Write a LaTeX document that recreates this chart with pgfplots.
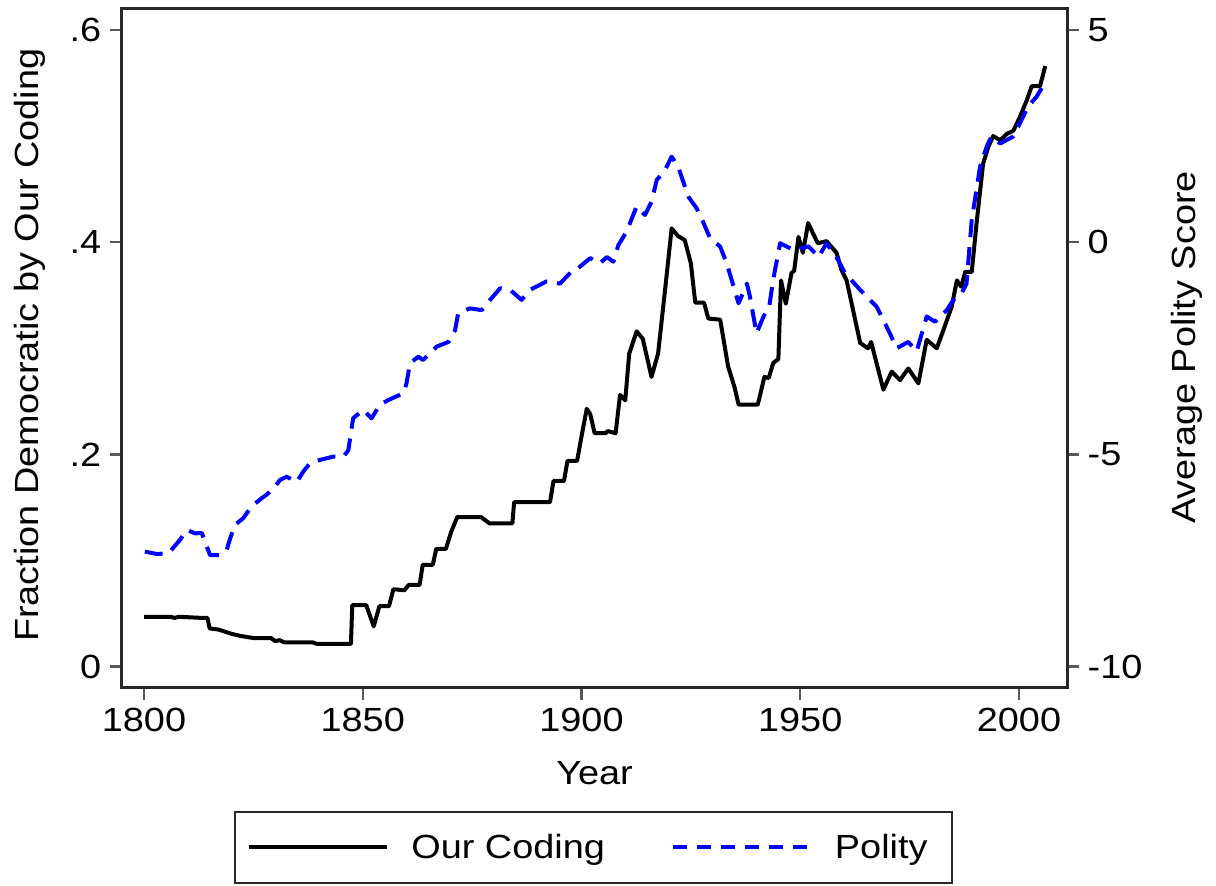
\documentclass[border=0pt]{standalone}
\usepackage{fontspec}
\setmainfont{Liberation Sans}[FakeStretch=1.13]
\usepackage{pgfplots}
\pgfplotsset{compat=1.18}
\definecolor{polblue}{RGB}{0,0,255}
\definecolor{framegray}{RGB}{40,40,40}
\begin{document}
\begin{tikzpicture}[font=\fontsize{16.75}{20}\selectfont]
\pgfplotsset{
  common/.style={
    scale only axis, width=472.8pt, height=339.7pt,
    xmin=1794.9, xmax=2011.04,
    axis line style={draw=framegray, line width=1.4pt},
    every tick/.style={draw=black!65, line width=1.2pt},
    major tick length=6pt,
    tick align=outside,
    clip=false,
  }
}
\begin{axis}[common,
  ymin=-0.0198, ymax=0.6204,
  xtick pos=bottom, ytick pos=left,
  xtick={1800,1850,1900,1950,2000},
  xticklabels={1800,1850,1900,1950,2000},
  ytick={0,0.2,0.4,0.6},
  yticklabels={0,.2,.4,.6},
  xticklabel style={inner sep=1pt, yshift=-3pt},
  yticklabel style={inner sep=1pt, xshift=-3pt},
  xlabel={Year},
  xlabel style={at={(axis description cs:0.5,-0.1256)}, anchor=center},
  ylabel={Fraction Democratic by Our Coding},
  ylabel style={at={(axis description cs:-0.097,0.504)}, anchor=center},
  legend columns=2,
  legend cell align=left,
  legend image code/.code={\draw[#1] (0pt,0pt) -- (69pt,0pt);},
  legend style={at={(axis description cs:0.4989,-0.2352)}, anchor=center,
    draw=framegray, line width=1pt, inner xsep=6pt, inner ysep=8pt,
    nodes={inner xsep=6pt, inner ysep=3pt},
    /tikz/every odd column/.append style={column sep=5pt},
    /tikz/every even column/.append style={column sep=27pt}},
]
\addplot[black, line width=2pt, line join=round] coordinates {
(1800,0.047)(1806,0.047)(1807,0.046)(1808,0.047)(1813,0.046)(1814.5,0.046)(1815,0.036)(1817,0.035)(1820,0.031)(1822,0.029)(1825,0.027)(1829,0.027)(1830,0.024)(1831,0.025)(1832,0.023)(1838.5,0.023)(1839.5,0.0215)(1847.3,0.0215)(1847.6,0.058)(1850.8,0.058)(1852.5,0.038)(1853.8,0.057)(1856,0.057)(1857,0.073)(1859.5,0.072)(1860.5,0.077)(1863,0.077)(1863.7,0.096)(1866,0.096)(1866.8,0.111)(1869,0.111)(1870.2,0.127)(1871.6,0.141)(1877,0.141)(1879,0.135)(1884.2,0.135)(1884.6,0.155)(1892.8,0.155)(1893.6,0.175)(1896,0.175)(1896.8,0.194)(1899,0.194)(1900,0.217)(1901.2,0.243)(1902,0.238)(1903,0.22)(1905.5,0.22)(1906,0.222)(1907.8,0.22)(1908.8,0.256)(1910,0.251)(1910.9,0.295)(1912.6,0.316)(1914,0.309)(1916,0.273)(1917.5,0.295)(1919.1,0.355)(1920.6,0.413)(1922,0.406)(1923.6,0.402)(1925,0.38)(1926,0.343)(1928,0.343)(1929,0.328)(1931.7,0.327)(1933.5,0.283)(1935,0.263)(1935.9,0.247)(1940.3,0.247)(1941.8,0.273)(1942.8,0.272)(1943.8,0.286)(1945,0.29)(1945.6,0.364)(1946.7,0.342)(1948,0.371)(1948.6,0.373)(1949.6,0.405)(1950.6,0.39)(1951.8,0.418)(1954,0.399)(1956,0.401)(1958.3,0.39)(1959.4,0.374)(1960.6,0.364)(1963.7,0.305)(1965.5,0.3)(1966.2,0.306)(1969,0.261)(1970.9,0.278)(1972.8,0.27)(1974.7,0.281)(1977,0.267)(1978.9,0.308)(1981.2,0.3)(1982.7,0.317)(1984.6,0.339)(1985.8,0.364)(1986.8,0.358)(1987.7,0.372)(1989.2,0.372)(1990.3,0.418)(1991.8,0.474)(1993,0.49)(1994.1,0.5)(1995.7,0.496)(1997.2,0.502)(1998.7,0.505)(2000.2,0.518)(2001.8,0.534)(2002.9,0.547)(2004.8,0.547)(2006,0.566)
};
\addlegendentry{Our Coding}
\addlegendimage{polblue, line width=2pt, dash pattern=on 7pt off 5pt}
\addlegendentry{Polity}
\end{axis}
\begin{axis}[common,
  ymin=-10.495, ymax=5.51,
  axis x line=none,
  axis y line*=right,
  ytick={-10,-5,0,5},
  yticklabels={-10,-5,0,5},
  yticklabel style={inner sep=1pt, xshift=3pt},
  ylabel={Average Polity Score},
  ylabel style={at={(axis description cs:1.1266,0.5007)}, anchor=center, rotate=0},
]
\addplot[polblue, line width=2pt, dash pattern=on 9pt off 5pt, line join=round] coordinates {
(1800.2,-7.29)(1802.9,-7.345)(1805.6,-7.33)(1808.2,-7.015)(1809.8,-6.78)(1811.7,-6.86)(1813.2,-6.85)(1815.1,-7.375)(1817.4,-7.375)(1818.9,-7.25)(1819.7,-6.975)(1820.8,-6.66)(1822.7,-6.5)(1824.6,-6.225)(1826.9,-6.03)(1828,-5.95)(1829.6,-5.8)(1831.1,-5.6)(1832.6,-5.525)(1834.9,-5.65)(1836.4,-5.405)(1837.9,-5.21)(1840.2,-5.13)(1843.3,-5.05)(1845.6,-5.05)(1846.7,-4.9)(1847.8,-4.15)(1850.1,-3.95)(1852,-4.15)(1853.9,-3.835)(1855.8,-3.72)(1859.3,-3.56)(1860,-3.325)(1860.8,-2.85)(1862.7,-2.7)(1863.8,-2.775)(1866.9,-2.46)(1869.6,-2.35)(1871.1,-2.075)(1871.8,-1.675)(1874.5,-1.56)(1877.2,-1.6)(1879.1,-1.36)(1881.4,-1.085)(1883.7,-1.125)(1886.3,-1.36)(1888.2,-1.125)(1892,-0.925)(1895.1,-0.975)(1898.1,-0.65)(1899.2,-0.615)(1902,-0.375)(1904.2,-0.5)(1905.8,-0.35)(1907.3,-0.46)(1908.4,-0.075)(1910.3,0.25)(1912.6,0.84)(1914.5,0.64)(1916,0.95)(1917.2,1.465)(1919.1,1.7)(1920.6,2.015)(1922.1,1.775)(1924.4,1.075)(1926.3,0.8)(1927.8,0.475)(1929.4,0.09)(1931.7,-0.105)(1933.2,-0.5)(1935.9,-1.44)(1937.8,-0.975)(1938.5,-1.28)(1940,-2.15)(1941.6,-1.75)(1942.9,-1.525)(1943.8,-0.89)(1945.4,-0.025)(1948.4,-0.18)(1951.9,-0.1)(1954.2,-0.35)(1956,-0.025)(1958.7,-0.425)(1960.2,-0.725)(1963.7,-1.125)(1967.5,-1.525)(1970.5,-2.15)(1972,-2.5)(1974.7,-2.35)(1976.6,-2.575)(1978.9,-1.75)(1980.8,-1.875)(1983.5,-1.6)(1985,-1.36)(1986.9,-1.2)(1988,-0.975)(1989.2,0.525)(1991.1,1.775)(1992.6,2.25)(1993.7,2.49)(1995.7,2.325)(1998.7,2.49)(2000.2,2.8)(2002.1,3.2)(2004,3.425)(2005.6,3.7)
};
\end{axis}
\path[use as bounding box] (-60.85pt,-99.15pt) rectangle (547.15pt,343.85pt);
\end{tikzpicture}
\end{document}
